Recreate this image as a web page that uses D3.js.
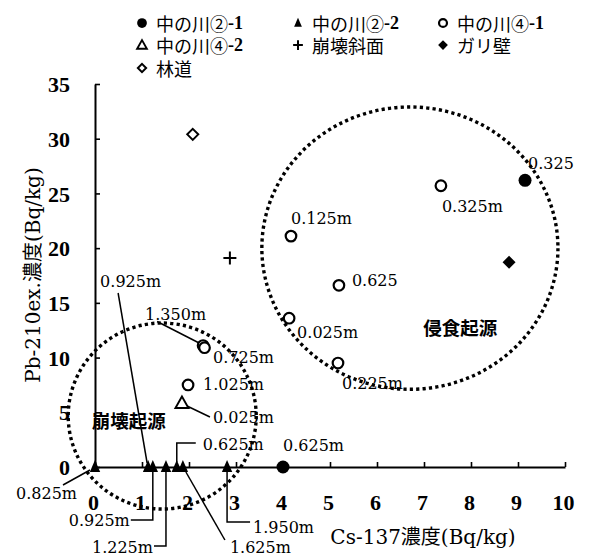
<!DOCTYPE html>
<html><head><meta charset="utf-8">
<script src="https://cdn.jsdelivr.net/npm/d3@7"></script>
<style>
body{margin:0;background:#fff;}
svg{display:block;}
</style></head>
<body>
<svg id="chart" width="593" height="555"></svg>
<script>
// ---- data ----
const xTicks = [0,1,2,3,4,5,6,7,8,9,10];
const yTicks = [0,5,10,15,20,25,30,35];
const seriesNames = ["中の川②-1","中の川②-2","中の川④-1","中の川④-2","崩壊斜面","ガリ壁","林道"];

const cs21 = [4.0, 9.15];
const pb21 = [0, 26.2];
const lab21 = ["0.625m","0.325"];

const cs22 = [0, 1.13, 1.23, 1.51, 1.74, 1.87, 2.81];
const pb22 = [0, 0, 0, 0, 0, 0, 0];
const lab22 = ["0.825m","0.925m","0.925m","1.225m","0.625m","1.625m","1.950m"];

const cs41 = [2.30, 2.33, 1.98, 4.17, 5.19, 4.13, 5.17, 7.36];
const pb41 = [11.1, 10.9, 7.5, 21.1, 16.6, 13.6, 9.5, 25.7];
const lab41 = ["1.350m","0.725m","1.025m","0.125m","0.625","0.025m","0.225m","0.325m"];

const cs42 = [1.85];
const pb42 = [5.85];
const lab42 = ["0.025m"];

const csSlope = [2.87]; const pbSlope = [19.1];
const csGully = [8.81]; const pbGully = [18.7];
const csRoad = [2.08];  const pbRoad = [30.4];

// origin regions (data units): cx, cy, rx, ry, label, label x, label y
const regions = [
  {name:"侵食起源", cx:6.70, cy:20.0, rx:3.15, ry:12.9, lx:7.77, ly:12.8},
  {name:"崩壊起源", cx:1.43, cy:4.66, rx:2.0, ry:8.5, lx:0.72, ly:4.3}
];

// ---- layout ----
const svg = d3.select("#chart");
const x = d3.scaleLinear().domain([0,10]).range([95,565]);
const y = d3.scaleLinear().domain([0,35]).range([467,84]);
const serif = "'DejaVu Serif', 'Noto Sans CJK JP', serif";
const tickFont = "'Liberation Serif', 'DejaVu Serif', serif";

// axes
const gx = svg.append("g").attr("transform","translate(0,"+y(0)+")")
  .call(d3.axisBottom(x).tickValues(xTicks).tickSizeInner(-5).tickSizeOuter(0).tickPadding(0));
const gy = svg.append("g").attr("transform","translate("+x(0)+",0)")
  .call(d3.axisLeft(y).tickValues(yTicks).tickSizeInner(-5).tickSizeOuter(0).tickPadding(0));
[gx,gy].forEach(g=>{
  g.select(".domain").attr("stroke","#000").attr("stroke-width",2);
  g.selectAll(".tick line").attr("stroke","#000").attr("stroke-width",1.6);
  g.selectAll("text").attr("font-family",tickFont).attr("font-weight","bold")
   .attr("font-size",22).attr("fill","#000");
});
gx.selectAll(".tick text").attr("y",35).attr("dy","0.35em").attr("dx",-2);
gy.selectAll(".tick text").attr("x",-25).attr("dy","0.35em");

// axis titles
svg.append("text").attr("x",423).attr("y",537).attr("text-anchor","middle")
  .attr("dominant-baseline","central").attr("font-family",serif).attr("font-size",20)
  .text("Cs-137濃度(Bq/kg)");
svg.append("text").attr("transform","translate(33,275) rotate(-90)").attr("text-anchor","middle")
  .attr("dominant-baseline","central").attr("font-family",serif).attr("font-size",20)
  .text("Pb-210ex.濃度(Bq/kg)");

// dotted region ellipses
const rg = svg.append("g");
regions.forEach(r=>{
  rg.append("ellipse").attr("cx",x(r.cx)).attr("cy",y(r.cy))
    .attr("rx",x(r.rx)-x(0)).attr("ry",y(0)-y(r.ry))
    .attr("fill","none").attr("stroke","#000").attr("stroke-width",3.4)
    .attr("stroke-dasharray","3.2 3.2");
  rg.append("text").attr("x",x(r.lx)).attr("y",y(r.ly)).attr("text-anchor","middle")
    .attr("dominant-baseline","central").attr("font-family","'Noto Sans CJK JP'")
    .attr("font-weight","bold").attr("font-size",18.5).text(r.name);
});

// symbols
function drawSymbol(g, type, px, py, s){
  s = s || 1;
  const t = "translate("+px+","+py+") scale("+s+")";
  if(type==="filledCircle"){
    g.append("circle").attr("cx",px).attr("cy",py).attr("r",6.5*s).attr("fill","#000");
  } else if(type==="openCircle"){
    g.append("circle").attr("cx",px).attr("cy",py).attr("r",5.3*s).attr("fill","#fff")
      .attr("stroke","#000").attr("stroke-width",2.2);
  } else if(type==="filledTriangle"){
    g.append("path").attr("transform",t).attr("d","M0,-7L5.2,5L-5.2,5Z").attr("fill","#000");
  } else if(type==="openTriangle"){
    g.append("path").attr("transform",t).attr("d","M0,-6.5L6.5,5L-6.5,5Z").attr("fill","#fff")
      .attr("stroke","#000").attr("stroke-width",1.9/s);
  } else if(type==="cross"){
    g.append("path").attr("transform",t).attr("d","M-6.5,0H6.5M0,-6.5V6.5").attr("fill","none")
      .attr("stroke","#000").attr("stroke-width",2/s);
  } else if(type==="filledDiamond"){
    g.append("path").attr("transform",t).attr("d","M0,-6.5L6.5,0L0,6.5L-6.5,0Z").attr("fill","#000");
  } else if(type==="openDiamond"){
    g.append("path").attr("transform",t).attr("d","M0,-5.5L5.5,0L0,5.5L-5.5,0Z").attr("fill","#fff")
      .attr("stroke","#000").attr("stroke-width",2/s);
  }
}

const series = [
  {type:"filledCircle", xs:cs21, ys:pb21, labels:lab21},
  {type:"filledTriangle", xs:cs22, ys:pb22, labels:lab22},
  {type:"openCircle", xs:cs41, ys:pb41, labels:lab41},
  {type:"openTriangle", xs:cs42, ys:pb42, labels:lab42},
  {type:"cross", xs:csSlope, ys:pbSlope, labels:[]},
  {type:"filledDiamond", xs:csGully, ys:pbGully, labels:[]},
  {type:"openDiamond", xs:csRoad, ys:pbRoad, labels:[]}
];

// label placement relative to point: [dx, dy, anchor, leader polyline]
const placement = [
  [[0,-22,"start"],[3,-17,"start"]],
  [[-18,26,"end",[[-32,18],[-5,3]]],
   [-48,-186,"start",[[-30,-174],[-1,-4]]],
   [-23,53,"end",[[-22,53],[0,53],[0,5]]],
   [-13,80,"end",[[-12,79],[0,79],[0,5]]],
   [26,-23,"start",[[0,-5],[0,-24],[19,-24]]],
   [47,80,"start",[[3,5],[42,73]]],
   [26,60,"start",[[0,5],[0,55],[23,55]]]],
  [[-58,-31,"start",[[-46,-24],[-3,-2]]],
   [8.5,10,"start"],[15,0,"start"],[0,-18,"start"],[13,-5,"start"],
   [8,14,"start"],[4,20,"start"],[1,21,"start"]],
  [[31,15,"start",[[3,2],[28,14]]]]
];

const lines = svg.append("g");
const pts = svg.append("g");
const labs = svg.append("g");
const line = d3.line();
series.forEach((s,si)=>{
  s.xs.forEach((v,i)=>{
    const px = x(v), py = y(s.ys[i]);
    drawSymbol(pts, s.type, px, py);
    if(s.labels[i]!==undefined){
      const p = placement[si][i];
      if(p[3]){
        lines.append("path").attr("d",line(p[3].map(q=>[px+q[0],py+q[1]])))
          .attr("fill","none").attr("stroke","#000").attr("stroke-width",1.5);
      }
      labs.append("text").attr("x",px+p[0]).attr("y",py+p[1]).attr("text-anchor",p[2])
        .attr("dominant-baseline","central").attr("font-family",serif).attr("font-size",16)
        .text(s.labels[i]);
    }
  });
});

// legend
const legendPos = [[142,23],[298,23],[443,23],[142,45],[298,45],[443,45],[142,68]];
const lg = svg.append("g");
series.forEach((s,i)=>{
  const [lx,ly] = legendPos[i];
  drawSymbol(lg, s.type, lx, ly, 0.75);
  const parts = seriesNames[i].split("-");
  const t = lg.append("text").attr("x",lx+14).attr("y",ly).attr("dominant-baseline","central")
    .attr("font-size",18);
  t.append("tspan").attr("font-family","'Noto Sans CJK JP', sans-serif").text(parts[0]);
  if(parts.length>1){
    t.append("tspan").attr("font-family",tickFont).attr("font-weight","bold").text("-"+parts[1]);
  }
});
</script>
</body></html>
